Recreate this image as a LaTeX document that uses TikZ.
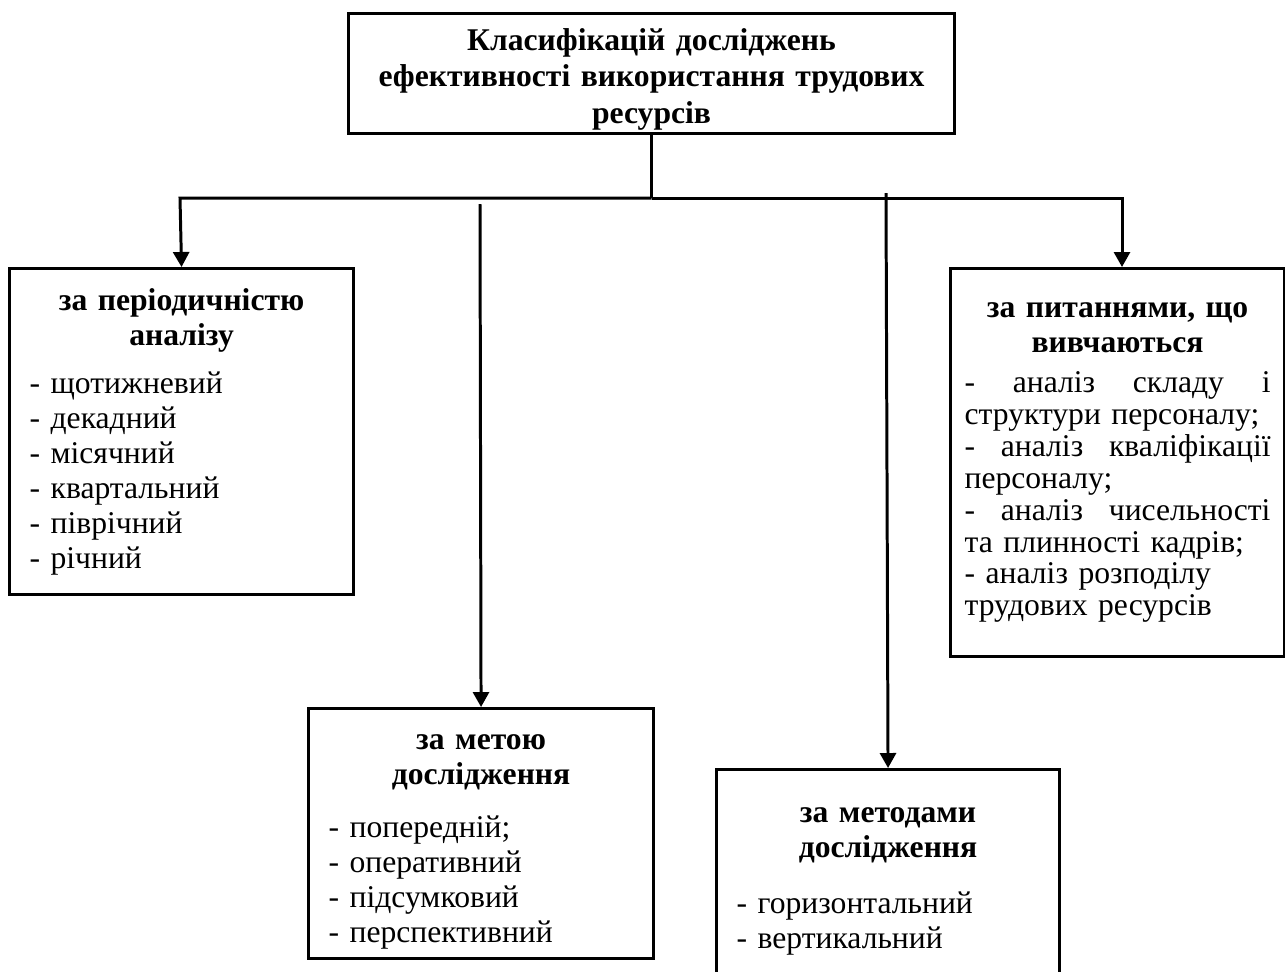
\documentclass[tikz,border=0pt]{standalone}
\usepackage{fontspec}
\setmainfont{Liberation Serif}
\usetikzlibrary{arrows.meta}
\setlength{\parindent}{0pt}
\newcommand{\txt}{\fontsize{18}{19.9}\selectfont}
\newcommand{\lift}[1]{\par\nointerlineskip\vspace{#1}\null}

\begin{document}
\begin{tikzpicture}[x=0.02cm,y=-0.02cm,
        blok/.style={draw, line width=1.8pt, anchor=north west, inner xsep=0.4cm, inner ysep=0pt, font=\txt},
        lin/.style={line width=1.7pt},
        arr/.style={lin, -{Triangle[length=0.3cm,width=0.32cm]}}]
    \useasboundingbox (0,0) rectangle (1285,971);

    \node[blok, text width=11.32cm, minimum height=2.4cm] (klas) at (347,12) {\centering\bfseries\fontsize{18}{20.8}\selectfont Класифікацій досліджень\\ефективності використання трудових\\ресурсів\lift{-0.22cm}};

    \node[blok, text width=6.08cm, minimum height=6.52cm] (period) at (8,267) {{\centering\bfseries за періодичністю\\аналізу\par}\vspace{0.26cm}\raggedright - щотижневий\\- декадний\\- місячний\\- квартальний\\- піврічний\\- річний\par};

    \node[blok, text width=6.1cm, minimum height=5cm] (meta) at (307,707) {{\centering\bfseries за метою\\дослідження\par}\vspace{0.36cm}\raggedright - попередній;\\- оперативний\\- підсумковий\\- перспективний\lift{-0.32cm}};

    \node[blok, text width=6.06cm, minimum height=4.48cm] (metod) at (715,768) {{\centering\bfseries за методами\\дослідження\par}\vspace{0.42cm}\raggedright - горизонтальний\\- вертикальний\par};

    \node[blok, text width=6.12cm, inner xsep=0.28cm, minimum height=7.76cm] (pytan) at (949,267) {{\centering\bfseries за питаннями, що\\вивчаються\par}\vspace{0.16cm}\raggedright\fontsize{18}{18.2}\selectfont
        -\hfill аналіз\hfill складу\hfill і\\структури персоналу;\\-\hfill аналіз\hfill кваліфікації\\персоналу;\\-\hfill аналіз\hfill чисельності\\та плинності кадрів;\\- аналіз розподілу\\трудових ресурсів\par};

    \coordinate (busL) at (180,198); \coordinate (busR) at (1122,198);
    \coordinate (metaTop) at (480,204); \coordinate (metodTop) at (886,193);

    \draw[lin] (klas.south) -- (klas.south |- busL);
    \draw[arr] (klas.south |- busL) -- (busL) -- (period.north);
    \draw[arr] (klas.south |- busL) -- (busR) -- (busR |- pytan.north);
    \draw[arr] (metaTop) -- (meta.north);
    \draw[arr] (metodTop) -- (metod.north);
\end{tikzpicture}
\end{document}
